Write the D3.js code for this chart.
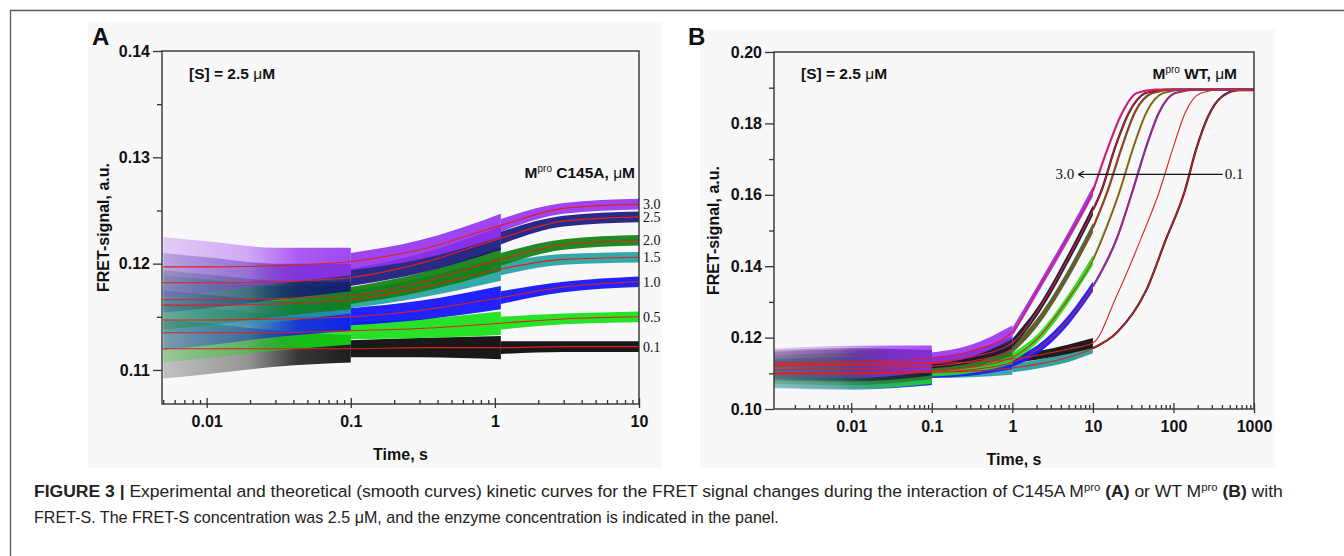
<!DOCTYPE html>
<html><head><meta charset="utf-8">
<script src="https://cdn.jsdelivr.net/npm/d3@7"></script>
<style>body{margin:0;background:#fff;}svg{display:block;}</style>
</head><body>
<svg id="c" width="1344" height="556"></svg>
<script>
// ================= DATA : panel A (C145A) =================
const concA   = ["0.1","0.5","1.0","1.5","2.0","2.5","3.0"];
const colorsA = ["#000000","#10e010","#0a0aff","#1f9e9e","#0b7d0b","#12127a","#9430f0"];
const timesA  = [0.005, 0.01, 0.03, 0.1, 0.3, 1.1, 3, 10];
const fitA01 = [0.1120,0.1120,0.1120,0.1120,0.1121,0.1121,0.1122,0.1122];
const fitA05 = [0.1135,0.1135,0.1135,0.1137,0.1139,0.1144,0.1148,0.1150];
const fitA10 = [0.1147,0.1147,0.1148,0.1150,0.1156,0.1168,0.1178,0.1183];
const fitA15 = [0.1161,0.1161,0.1162,0.1166,0.1177,0.1195,0.1204,0.1206];
const fitA20 = [0.1166,0.1166,0.1167,0.1170,0.1182,0.1204,0.1218,0.1222];
const fitA25 = [0.1182,0.1182,0.1183,0.1187,0.1200,0.1224,0.1240,0.1244];
const fitA30 = [0.1197,0.1197,0.1198,0.1202,0.1213,0.1236,0.1252,0.1256];
// noise half-width of the measured traces, per acquisition segment (index ranges into timesA)
const noiseA1 = [0.0028,0.0024,0.0017,0.0013];   // t 0.005 .. 0.1
const noiseA2 = [0.0008,0.0009,0.0011];          // t 0.1 .. 1.1
const noiseA3 = [0.0006,0.0005,0.0005];          // t 1.1 .. 10
const yTicksA = [0.11,0.12,0.13,0.14];
const yMinorA = [0.115,0.125,0.135];
const xTicksA = [0.01,0.1,1,10];
const xTickLabelsA = ["0.01","0.1","1","10"];

// ================= DATA : panel B (WT) =================
const concB   = ["0.1","0.5","1.0","1.5","2.0","2.5","3.0"];
const colorsB = ["#2a9d9d","#111111","#1a1aff","#22e022","#2a6e2a","#14143c","#9a30f5"];
const tailColorsB = ["#1a1a1a",null,"#3030ff","#30d030","#2a6e2a","#14143c","#b030e0"];
const timesB  = [0.0011, 0.01, 0.1, 0.3, 1, 2, 5, 10];
const fitB01 = [0.1100,0.1101,0.1103,0.1106,0.1115,0.1125,0.1145,0.1170];
const fitB05 = [0.1125,0.1126,0.1128,0.1131,0.1140,0.1150,0.1168,0.1185];
const fitB10 = [0.1098,0.1099,0.1103,0.1110,0.1130,0.1165,0.1250,0.1343];
const fitB15 = [0.1100,0.1101,0.1107,0.1117,0.1145,0.1195,0.1310,0.1417];
const fitB20 = [0.1110,0.1112,0.1120,0.1133,0.1168,0.1240,0.1380,0.1507];
const fitB25 = [0.1120,0.1122,0.1130,0.1145,0.1185,0.1270,0.1425,0.1557];
const fitB30 = [0.1130,0.1132,0.1142,0.1162,0.1215,0.1330,0.1485,0.1610];
// late parts of the theoretical curves (t > 10 s)
const tailTB01 = [20,46,80,138,190,270,400,650,1000];
const tailVB01 = [0.1215,0.1333,0.1473,0.1610,0.1725,0.1820,0.1875,0.1893,0.1893];
const tailTB05 = [20,40,67,100,140,220,400,1000];
const tailVB05 = [0.1320,0.1480,0.1610,0.1735,0.1830,0.1885,0.1895,0.1895];
const tailTB10 = [20,31,46,66,105,200,1000];
const tailVB10 = [0.1480,0.1610,0.1735,0.1830,0.1885,0.1895,0.1895];
const tailTB15 = [21.5,32,46,75,140,1000];
const tailVB15 = [0.1610,0.1735,0.1830,0.1885,0.1895,0.1895];
const tailTB20 = [15.2,23,33,55,100,1000];
const tailVB20 = [0.1610,0.1735,0.1830,0.1885,0.1895,0.1895];
const tailTB25 = [12.7,19,28,45,80,1000];
const tailVB25 = [0.1610,0.1735,0.1830,0.1885,0.1895,0.1895];
const tailTB30 = [15,22,35,60,1000];
const tailVB30 = [0.1725,0.1820,0.1885,0.1895,0.1895];
const noiseB1 = [0.0040,0.0045,0.0036];          // t 0.0011 .. 0.1
const noiseB2 = [0.0016,0.0017,0.0019];          // t 0.1 .. 1
const noiseB3 = [0.0012,0.0012,0.0013,0.0014];   // t 1 .. 10
const yTicksB = [0.10,0.12,0.14,0.16,0.18,0.20];
const yMinorB = [0.11,0.13,0.15,0.17,0.19];
const xTicksB = [0.01,0.1,1,10,100,1000];
const xTickLabelsB = ["0.01","0.1","1","10","100","1000"];
const arrowB = {tFrom: 410, tTo: 6.6, v: 0.1657, labelFrom: "0.1", labelTo: "3.0"};

// ================= DRAWING =================
const svg = d3.select("#c");
const defs = svg.append("defs");
const SANS = "'Liberation Sans', Arial, Helvetica, sans-serif";
const SERIF = "'Liberation Serif', 'Times New Roman', serif";
const RED = "#e0201c";

svg.append("rect").attr("width",1344).attr("height",556).attr("fill","#fff");
svg.append("path").attr("d","M10.5,556 V10.5 H1344").attr("fill","none").attr("stroke","#5a5a5a").attr("stroke-width",1.3);
svg.append("rect").attr("x",88).attr("y",22).attr("width",574).attr("height",446).attr("fill","#f8f8f8");
svg.append("rect").attr("x",700).attr("y",30).attr("width",575).attr("height",438).attr("fill","#f8f8f8");

function drawPanel(cfg){
  const g = svg.append("g");
  const x = d3.scaleLog().domain(cfg.xDomain).range([cfg.left, cfg.right]);
  const y = d3.scaleLinear().domain(cfg.yDomain).range([cfg.bottom, cfg.top]);
  const clipId = "clip" + cfg.id;
  defs.append("clipPath").attr("id", clipId).append("rect")
    .attr("x", cfg.left).attr("y", cfg.top).attr("width", cfg.right-cfg.left).attr("height", cfg.bottom-cfg.top);
  const plot = g.append("g").attr("clip-path", `url(#${clipId})`);

  const area = d3.area().x(d=>x(d.t)).y0(d=>y(d.v-d.n)).y1(d=>y(d.v+d.n)).curve(d3.curveMonotoneX);
  const line = d3.line().x(d=>x(d.t)).y(d=>y(d.v)).curve(d3.curveMonotoneX);

  // measured traces drawn as their noise bands
  cfg.series.forEach((s,si)=>{
    cfg.segments.forEach((seg,k)=>{
      const pts = [];
      for(let i=seg.i0;i<=seg.i1;i++) pts.push({t:cfg.times[i], v:s.fit[i], n:seg.noise[i-seg.i0]});
      let fill = s.color, op = seg.op;
      if(seg.fade){
        const gid = `gr${cfg.id}${si}${k}`;
        const gr = defs.append("linearGradient").attr("id",gid).attr("gradientUnits","userSpaceOnUse")
          .attr("x1", x(cfg.times[seg.i0])).attr("x2", x(cfg.times[seg.i1])).attr("y1",0).attr("y2",0);
        seg.fade.forEach(f=>gr.append("stop").attr("offset",f[0]).attr("stop-color",s.color).attr("stop-opacity",f[1]));
        fill = `url(#${gid})`; op = 1;
      }
      plot.append("path").attr("d", area(pts)).attr("fill", fill).attr("fill-opacity", op);
    });
  });
  // late data traces (panel B)
  cfg.series.forEach(s=>{
    if(!s.tailColor || !s.tailT) return;
    const pts = [{t:cfg.times[cfg.times.length-1], v:s.fit[s.fit.length-1]}]
      .concat(s.tailT.map((t,i)=>({t, v:s.tailV[i]})));
    plot.append("path").attr("d", line(pts)).attr("fill","none").attr("stroke", s.tailColor).attr("stroke-width",2.2);
  });
  // theoretical curves
  cfg.series.forEach(s=>{
    let pts = cfg.times.map((t,i)=>({t, v:s.fit[i]}));
    if(s.tailT) pts = pts.concat(s.tailT.map((t,i)=>({t, v:s.tailV[i]})));
    plot.append("path").attr("d", line(pts)).attr("fill","none").attr("stroke", RED).attr("stroke-width",1.1);
  });

  // frame
  g.append("rect").attr("x",cfg.left).attr("y",cfg.top).attr("width",cfg.right-cfg.left).attr("height",cfg.bottom-cfg.top)
    .attr("fill","none").attr("stroke","#333").attr("stroke-width",1.4);

  // y axis
  const ya = g.append("g").attr("transform",`translate(${cfg.left},0)`)
    .call(d3.axisLeft(y).tickValues(cfg.yTicks).tickSize(9).tickSizeOuter(0).tickPadding(3).tickFormat(cfg.yFmt));
  const yam = g.append("g").attr("transform",`translate(${cfg.left},0)`)
    .call(d3.axisLeft(y).tickValues(cfg.yMinor).tickSize(5).tickSizeOuter(0).tickFormat(""));
  // x axis
  const minor = x.ticks().filter(v=>!cfg.xTicks.some(m=>Math.abs(Math.log10(m)-Math.log10(v))<1e-6));
  const xm = g.append("g").attr("transform",`translate(0,${cfg.bottom})`)
    .call(d3.axisBottom(x).tickValues(minor).tickSize(-4).tickSizeOuter(0).tickFormat(""));
  const xi = g.append("g").attr("transform",`translate(0,${cfg.bottom})`)
    .call(d3.axisBottom(x).tickValues(cfg.xTicks).tickSize(-6).tickSizeOuter(0).tickFormat(""));
  const xa = g.append("g").attr("transform",`translate(0,${cfg.bottom})`)
    .call(d3.axisBottom(x).tickValues(cfg.xTicks).tickSize(4).tickSizeOuter(0).tickPadding(8)
      .tickFormat((d,i)=>cfg.xLabels[i]));
  [ya,yam,xm,xi,xa].forEach(a=>{
    a.select(".domain").remove();
    a.selectAll("line").attr("stroke","#333").attr("stroke-width",1.3);
    a.selectAll("text").attr("font-family",SANS).attr("font-weight","bold").attr("font-size",16).attr("fill","#111");
  });

  // axis titles
  g.append("text").attr("x",(cfg.left+cfg.right)/2).attr("y",cfg.bottom+56).attr("text-anchor","middle")
    .attr("font-family",SANS).attr("font-weight","bold").attr("font-size",16).attr("fill","#111").text("Time, s");
  g.append("text").attr("transform",`translate(${cfg.ytitleX},${(cfg.top+cfg.bottom)/2}) rotate(-90)`)
    .attr("text-anchor","middle").attr("font-family",SANS).attr("font-weight","bold").attr("font-size",16).attr("fill","#111")
    .text("FRET-signal, a.u.");
  // panel letter
  g.append("text").attr("x",cfg.letterX).attr("y",45).attr("font-family",SANS).attr("font-weight","bold")
    .attr("font-size",24).attr("fill","#111").text(cfg.id);
  // [S] label
  const s1 = g.append("text").attr("x",cfg.left+27).attr("y",79).attr("font-family",SANS).attr("font-weight","bold")
    .attr("font-size",15.5).attr("fill","#111");
  s1.append("tspan").text("[S] = 2.5 ");
  s1.append("tspan").attr("font-weight","normal").text("\u03bc");
  s1.append("tspan").text("M");
  // enzyme label
  const s2 = g.append("text").attr("x",cfg.enzX).attr("y",cfg.enzY).attr("text-anchor","end").attr("font-family",SANS)
    .attr("font-weight","bold").attr("font-size",15.5).attr("fill","#111");
  s2.append("tspan").text("M");
  s2.append("tspan").attr("dy",-6).attr("font-size",10).attr("font-weight","normal").text("pro");
  s2.append("tspan").attr("dy",6).text(" " + cfg.enzName + ", ");
  s2.append("tspan").attr("font-weight","normal").text("\u03bc");
  s2.append("tspan").text("M");
  return {x,y,g};
}

const mk = (fits, conc, colors) => fits.map((f,i)=>({fit:f, name:conc[i], color:colors[i]}));

// ---- Panel A
const seriesA = mk([fitA01,fitA05,fitA10,fitA15,fitA20,fitA25,fitA30], concA, colorsA);
const A = drawPanel({
  id:"A", left:162, right:639, top:51, bottom:404,
  xDomain:[0.0049,10], yDomain:[0.1068,0.14],
  times: timesA, series: seriesA,
  segments:[{i0:0,i1:3,noise:noiseA1,fade:[[0,0.22],[0.45,0.4],[0.72,0.78],[1,0.88]]},
            {i0:3,i1:5,noise:noiseA2,op:0.9},{i0:5,i1:7,noise:noiseA3,op:0.9}],
  yTicks:yTicksA, yMinor:yMinorA, yFmt:d3.format(".2f"), xTicks:xTicksA, xLabels:xTickLabelsA,
  ytitleX:109, letterX:92, enzX:635, enzY:178, enzName:"C145A"
});
seriesA.forEach(s=>{
  A.g.append("text").attr("x",643).attr("y",A.y(s.fit[s.fit.length-1])+5).attr("font-family",SERIF)
    .attr("font-size",14).attr("fill","#111").text(s.name);
});

// ---- Panel B
const seriesB = mk([fitB01,fitB05,fitB10,fitB15,fitB20,fitB25,fitB30], concB, colorsB);
const tailsT = [tailTB01,tailTB05,tailTB10,tailTB15,tailTB20,tailTB25,tailTB30];
const tailsV = [tailVB01,tailVB05,tailVB10,tailVB15,tailVB20,tailVB25,tailVB30];
seriesB.forEach((s,i)=>{ s.tailT = tailsT[i]; s.tailV = tailsV[i]; s.tailColor = tailColorsB[i]; });
const B = drawPanel({
  id:"B", left:774, right:1254, top:52, bottom:409,
  xDomain:[0.0011,1000], yDomain:[0.10,0.20],
  times: timesB, series: seriesB,
  segments:[{i0:0,i1:2,noise:noiseB1,fade:[[0,0.22],[0.4,0.35],[0.7,0.7],[1,0.85]]},
            {i0:2,i1:4,noise:noiseB2,op:0.9},{i0:4,i1:7,noise:noiseB3,op:0.95}],
  yTicks:yTicksB, yMinor:yMinorB, yFmt:d3.format(".2f"), xTicks:xTicksB, xLabels:xTickLabelsB,
  ytitleX:719, letterX:688, enzX:1237, enzY:79, enzName:"WT"
});
// arrow annotation
defs.append("marker").attr("id","ah").attr("viewBox","0 0 10 10").attr("refX",9).attr("refY",5)
  .attr("markerWidth",8).attr("markerHeight",8).attr("markerUnits","userSpaceOnUse").attr("orient","auto")
  .append("path").attr("d","M2,1 L9,5 L2,9").attr("fill","none").attr("stroke","#111").attr("stroke-width",1.4);
const ay = B.y(arrowB.v);
B.g.append("line").attr("x1",B.x(arrowB.tFrom)).attr("x2",B.x(arrowB.tTo)).attr("y1",ay).attr("y2",ay)
  .attr("stroke","#111").attr("stroke-width",1.2).attr("marker-end","url(#ah)");
B.g.append("text").attr("x",B.x(arrowB.tTo)-4).attr("y",ay+5).attr("text-anchor","end").attr("font-family",SERIF)
  .attr("font-size",15).attr("fill","#111").text(arrowB.labelTo);
B.g.append("text").attr("x",B.x(arrowB.tFrom)+2).attr("y",ay+5).attr("font-family",SERIF)
  .attr("font-size",15).attr("fill","#111").text(arrowB.labelFrom);

// ---- Caption
const CAP = "'Liberation Sans Narrow','Arial Narrow','Liberation Sans',Arial,sans-serif";
const g1 = svg.append("g");
const l1 = g1.append("text").attr("x",0).attr("y",0).attr("font-family",CAP).attr("font-size",17).attr("fill","#222");
l1.append("tspan").attr("font-weight","bold").text("FIGURE 3 |");
l1.append("tspan").text(" Experimental and theoretical (smooth curves) kinetic curves for the FRET signal changes during the interaction of C145A M");
l1.append("tspan").attr("dy",-6).attr("font-size",11).text("pro");
l1.append("tspan").attr("dy",6).text(" ");
l1.append("tspan").attr("font-weight","bold").text("(A)");
l1.append("tspan").text(" or WT M");
l1.append("tspan").attr("dy",-6).attr("font-size",11).text("pro");
l1.append("tspan").attr("dy",6).text(" ");
l1.append("tspan").attr("font-weight","bold").text("(B)");
l1.append("tspan").text(" with");
const g2 = svg.append("g");
const l2 = g2.append("text").attr("x",0).attr("y",0).attr("font-family",CAP).attr("font-size",17).attr("fill","#222")
  .text("FRET-S. The FRET-S concentration was 2.5 \u03bcM, and the enzyme concentration is indicated in the panel.");
g1.attr("transform",`translate(34,497) scale(${1250 / l1.node().getComputedTextLength()},1)`);
g2.attr("transform",`translate(34,523) scale(${745 / l2.node().getComputedTextLength()},1)`);
</script>
</body></html>
